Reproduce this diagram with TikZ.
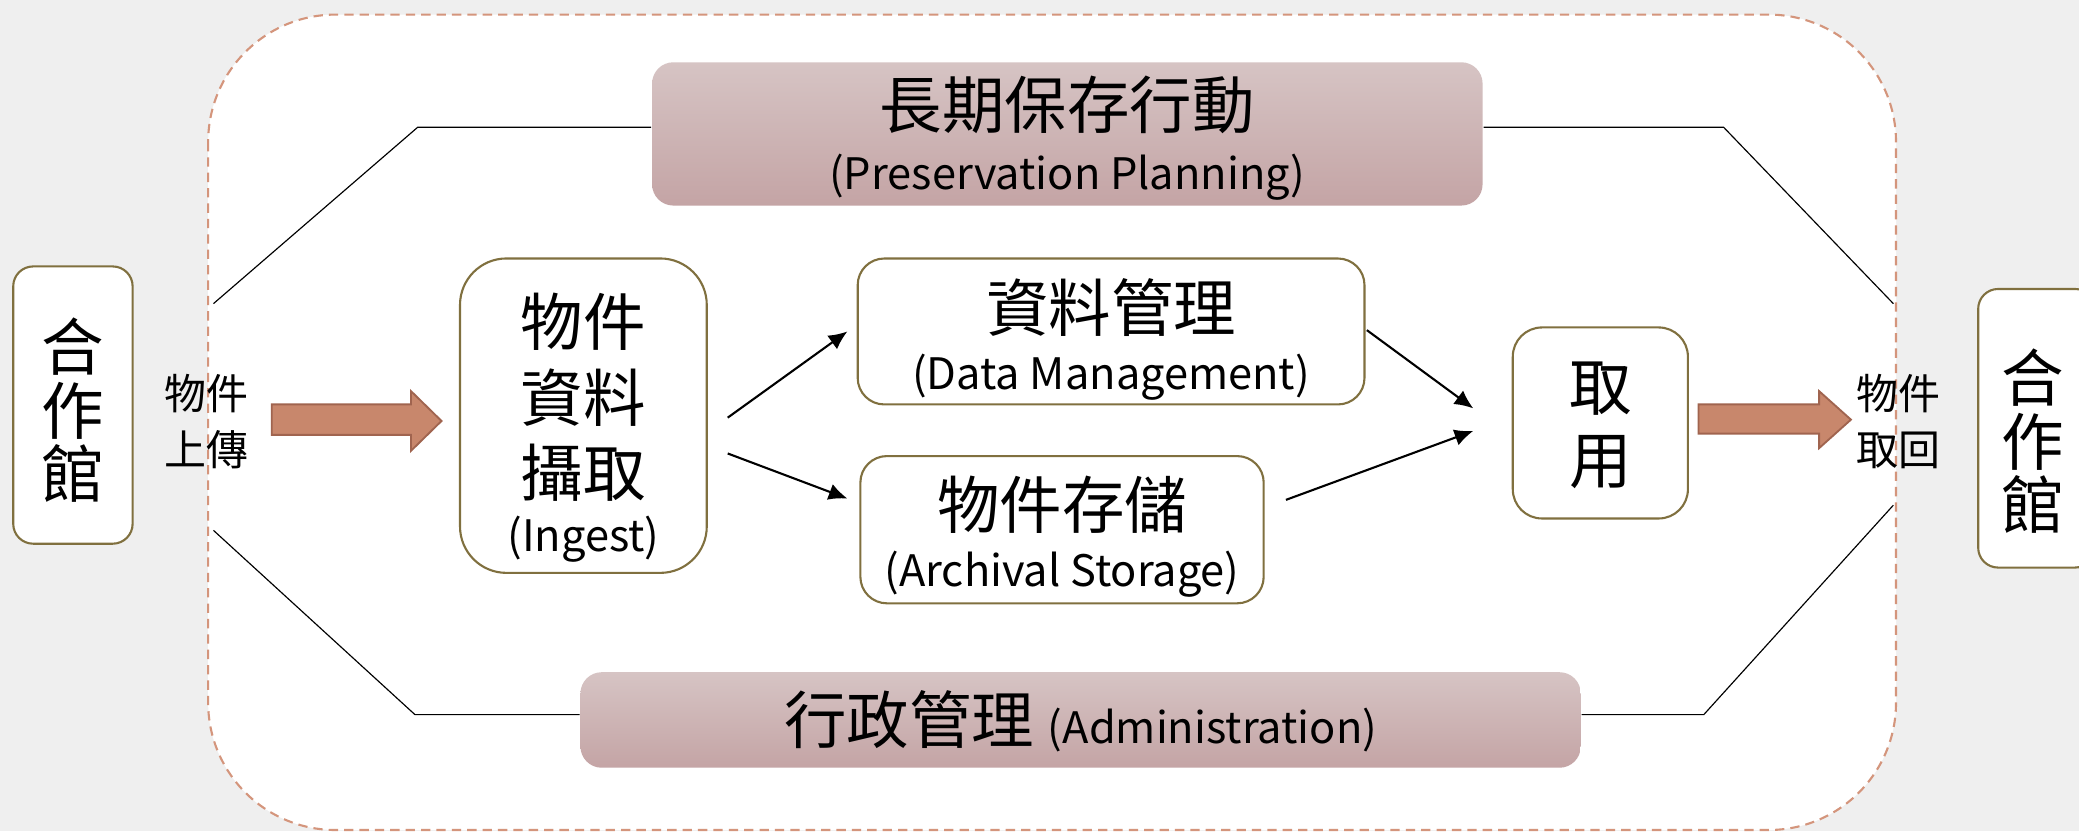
\documentclass[tikz,border=0pt]{standalone}
\usepackage{fontspec}
\setmainfont{Noto Sans}
\newfontfamily\cjk{Noto Sans CJK TC}
\usetikzlibrary{calc,arrows.meta}
\definecolor{bgc}{HTML}{EFEFEF}
\definecolor{dashc}{HTML}{D4957C}
\definecolor{olive}{HTML}{80703F}
\definecolor{arrowfill}{HTML}{C8876C}
\definecolor{arrowdraw}{HTML}{A0644F}
\definecolor{pinktop}{HTML}{D6C4C4}
\definecolor{pinkbot}{HTML}{C4A4A5}
\newcommand\bigf{\cjk\fontsize{13.4pt}{16.2pt}\selectfont}
\newcommand\latf{\fontsize{9.3pt}{11pt}\selectfont}
\newcommand\lblf{\cjk\fontsize{9pt}{12pt}\selectfont}
\begin{document}
\begin{tikzpicture}[x=0.01cm,y=-0.01cm,
  obox/.style={draw=olive, line width=0.45pt, fill=white, inner sep=0pt},
  pbox/.style={top color=pinktop, bottom color=pinkbot, draw=none, rounded corners=0.16cm, inner sep=0pt},
  txt/.style={inner sep=0pt, align=center, font=\bigf},
  conn/.style={line width=0.45pt, -{Latex[length=4pt,width=3.6pt]}},
  rule/.style={line width=0.25pt},
  blk/.style={fill=arrowfill, draw=arrowdraw, line width=0.4pt},
  lbl/.style={inner sep=0pt, align=center, font=\lblf}]
\useasboundingbox (0,0) rectangle (1568,627);
\clip (0,0) rectangle (1568,627);
\fill[bgc] (0,0) rectangle (1568,627);
\draw[dashc, dash pattern=on 2pt off 1.3pt, line width=0.45pt, fill=white, rounded corners=0.96cm] (157,11) rectangle (1430,626);

% boxes
\node[obox, minimum width=0.9cm, minimum height=2.09cm, rounded corners=0.15cm] (lib1) at (55,305.5) {};
\node[obox, minimum width=0.88cm, minimum height=2.1cm, rounded corners=0.15cm] (lib2) at (1536,323) {};
\node[obox, minimum width=1.86cm, minimum height=2.37cm, rounded corners=0.35cm] (ing) at (440,313.5) {};
\node[obox, minimum width=3.82cm, minimum height=1.1cm, rounded corners=0.2cm] (dm) at (838,250) {};
\node[obox, minimum width=3.04cm, minimum height=1.11cm, rounded corners=0.2cm] (as) at (801,399.5) {};
\node[obox, minimum width=1.32cm, minimum height=1.44cm, rounded corners=0.22cm] (qy) at (1207,319) {};
\node[pbox, minimum width=6.26cm, minimum height=1.08cm] (pp) at (805,101) {};
\node[pbox, minimum width=7.54cm, minimum height=0.72cm] (adm) at (815,543) {};

% texts
\node[txt, font=\cjk\fontsize{13.4pt}{13.6pt}\selectfont] (lib1t) at ($(lib1)+(0,4)$) {合\\作\\館};
\node[txt, font=\cjk\fontsize{13.4pt}{13.6pt}\selectfont] (lib2t) at ($(lib2)+(-3,10)$) {合\\作\\館};
\node[txt] (ingt) at ($(ing)+(0,9)$) {物件\\資料\\攝取\\[-4.5pt]{\latf (Ingest)}};
\node[txt] (dmt) at ($(dm)+(0,6)$) {資料管理\\[-3.7pt]{\latf (Data Management)}};
\node[txt] (ast) at ($(as)+(0,5)$) {物件存儲\\[-3.7pt]{\latf (Archival Storage)}};
\node[txt, font=\cjk\fontsize{13.4pt}{15.6pt}\selectfont] (qyt) at ($(qy)+(0,2)$) {取\\用};
\node[txt] (ppt) at ($(pp)+(0,3.5)$) {長期保存行動\\[-3.1pt]{\latf (Preservation Planning)}};
\node[txt] (admt) at ($(adm)+(0,1)$) {行政管理 {\latf (Administration)}};

% labels
\node[lbl] (up) at (156,318) {物件\\上傳};
\node[lbl] (back) at (1432,318) {物件\\取回};

% block arrows
\draw[blk] (205,305) -- (310,305) -- (310,295) -- (333,317.5) -- (310,340) -- (310,328) -- (205,328) -- cycle;
\draw[blk] (1281,305) -- (1372,305) -- (1372,295) -- (1396,316.5) -- (1372,338) -- (1372,327) -- (1281,327) -- cycle;

% thin lines
\coordinate (tl) at (161,229);
\coordinate (tr) at (1428,229);
\coordinate (bl) at (161,400);
\coordinate (br) at (1428,381);
\draw[rule] (tl) -- (315,96) -- ($(pp.west)+(0,-5)$);
\draw[rule] ($(pp.east)+(0,-5)$) -- (1300,96) -- (tr);
\draw[rule] (bl) -- (313,539) -- ($(adm.west)+(0,-4)$);
\draw[rule] ($(adm.east)+(0,-4)$) -- (1285,539) -- (br);

% connectors
\draw[conn] ($(ing.east)+(15,1.5)$) -- ($(dm.west)+(-7,0)$);
\draw[conn] ($(ing.east)+(15,28.5)$) -- ($(as.west)+(-9,-23.5)$);
\draw[conn] ($(dm.east)+(1,-1)$) -- ($(qy.west)+(-29,-11)$);
\draw[conn] ($(as.east)+(16,-22.5)$) -- ($(qy.west)+(-29,6)$);
\end{tikzpicture}
\end{document}
